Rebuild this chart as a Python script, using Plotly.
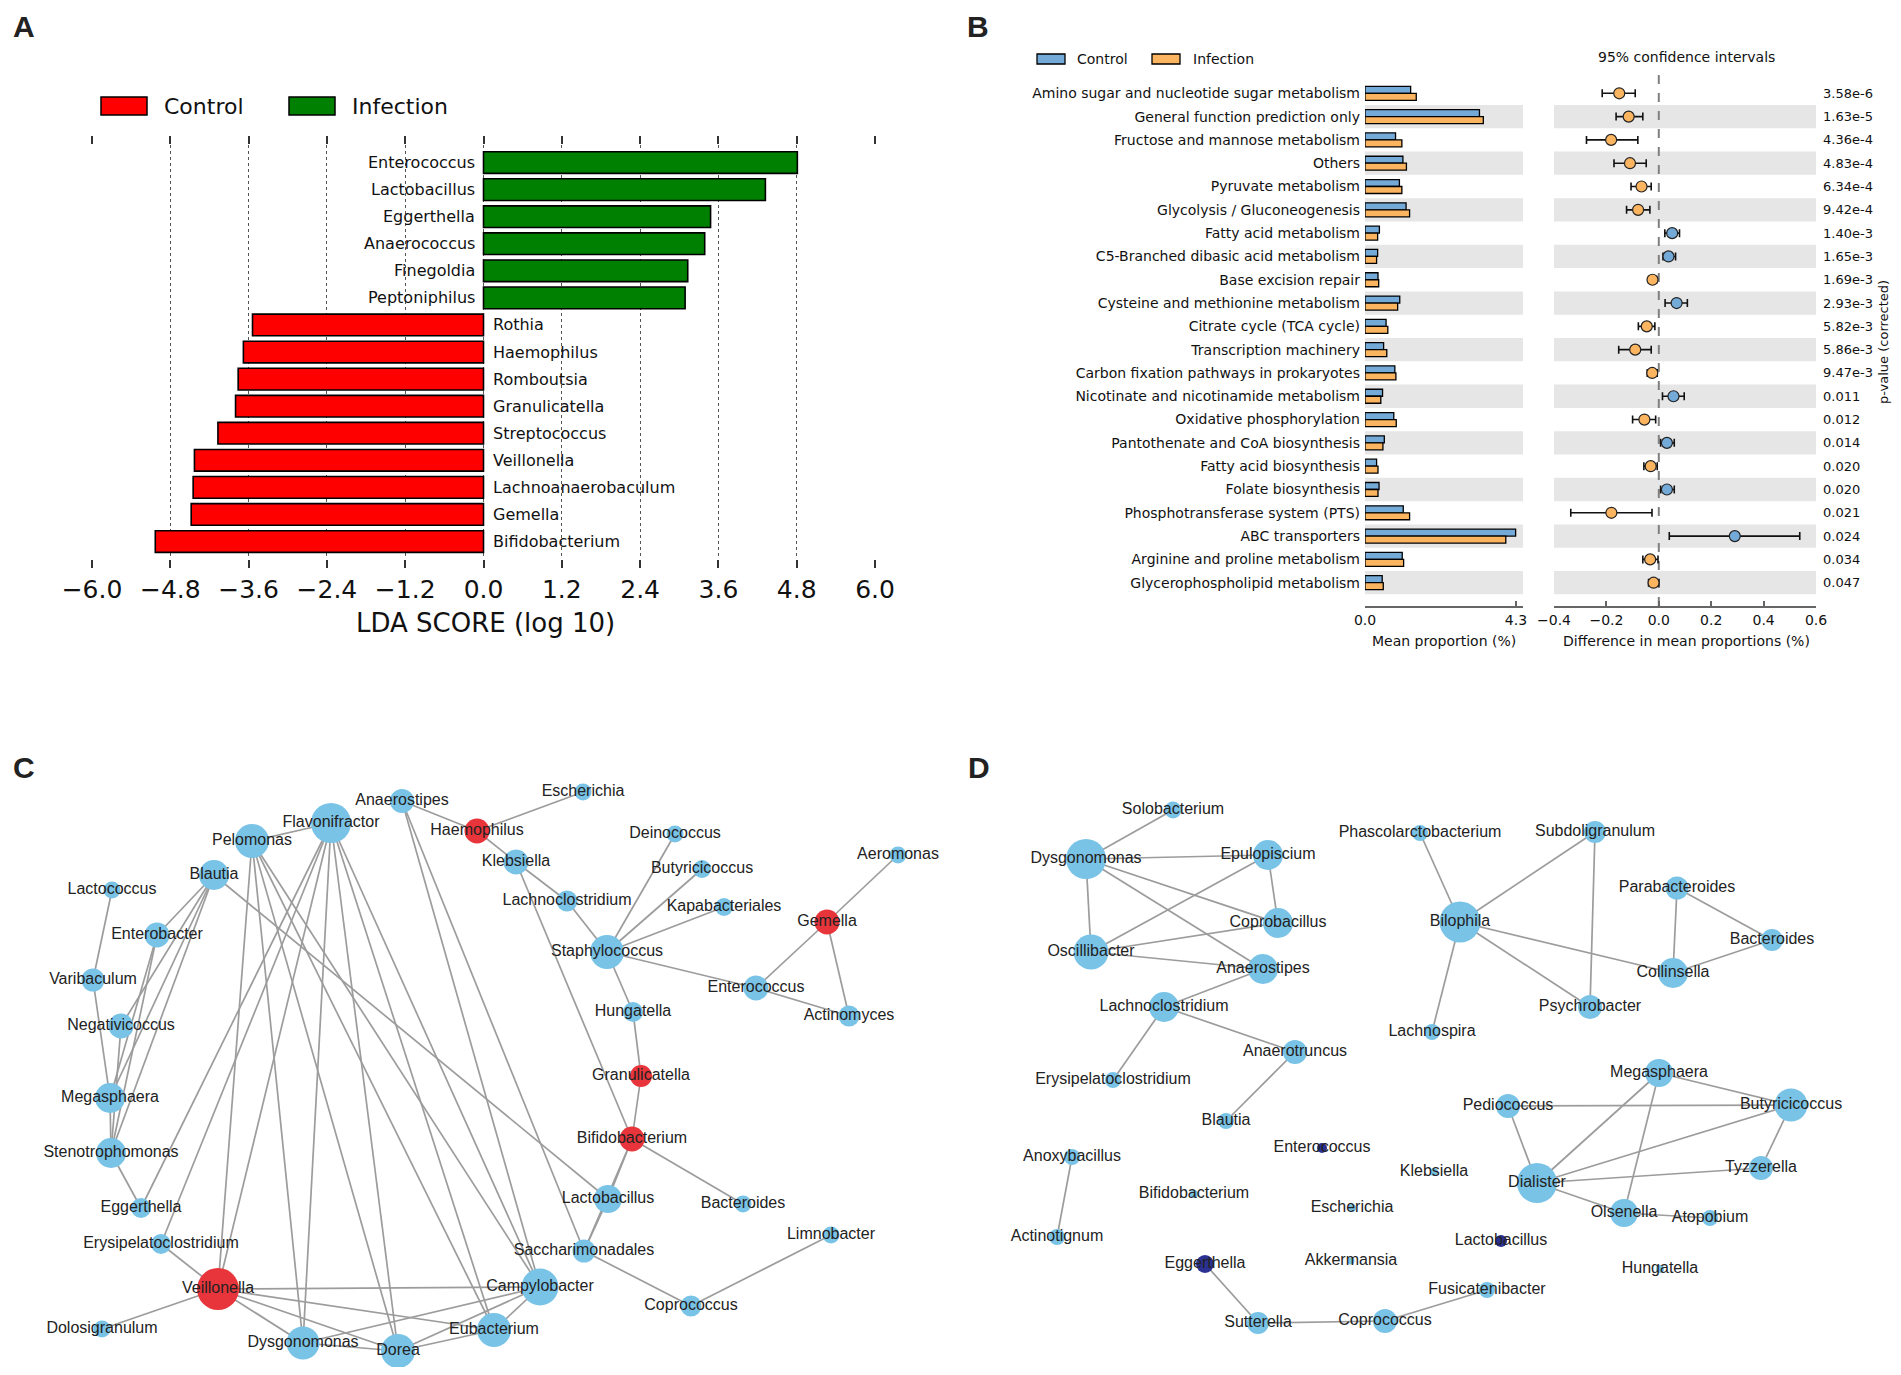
import plotly.graph_objects as go

REF_W, REF_H = 1901, 1375
OFF = 8  # default page margin of the HTML body, compensated below
W, H = REF_W - 2 * OFF, REF_H - 2 * OFF  # figure fits the window without scrollbars

# ---------------- Panel A data (LEfSe) ----------------
lda_taxa = ["Enterococcus", "Lactobacillus", "Eggerthella", "Anaerococcus", "Finegoldia",
            "Peptoniphilus", "Rothia", "Haemophilus", "Romboutsia", "Granulicatella",
            "Streptococcus", "Veillonella", "Lachnoanaerobaculum", "Gemella", "Bifidobacterium"]
lda_scores = [4.81, 4.32, 3.48, 3.39, 3.13, 3.09, -3.54, -3.68, -3.76, -3.80,
              -4.07, -4.43, -4.45, -4.48, -5.03]
lda_ticks = [-6.0, -4.8, -3.6, -2.4, -1.2, 0.0, 1.2, 2.4, 3.6, 4.8, 6.0]
lda_tick_labels = ["\u22126.0", "\u22124.8", "\u22123.6", "\u22122.4", "\u22121.2", "0.0",
                   "1.2", "2.4", "3.6", "4.8", "6.0"]

# ---------------- Panel B data (STAMP) ----------------
pathways = ["Amino sugar and nucleotide sugar metabolism", "General function prediction only",
            "Fructose and mannose metabolism", "Others", "Pyruvate metabolism",
            "Glycolysis / Gluconeogenesis", "Fatty acid metabolism",
            "C5-Branched dibasic acid metabolism", "Base excision repair",
            "Cysteine and methionine metabolism", "Citrate cycle (TCA cycle)",
            "Transcription machinery", "Carbon fixation pathways in prokaryotes",
            "Nicotinate and nicotinamide metabolism", "Oxidative phosphorylation",
            "Pantothenate and CoA biosynthesis", "Fatty acid biosynthesis",
            "Folate biosynthesis", "Phosphotransferase system (PTS)", "ABC transporters",
            "Arginine and proline metabolism", "Glycerophospholipid metabolism"]
control_mean = [1.30, 3.26, 0.87, 1.08, 0.98, 1.17, 0.41, 0.36, 0.37, 0.99, 0.60,
                0.53, 0.85, 0.50, 0.82, 0.55, 0.33, 0.40, 1.09, 4.29, 1.06, 0.49]
infection_mean = [1.46, 3.37, 1.05, 1.18, 1.05, 1.27, 0.36, 0.33, 0.39, 0.93, 0.65,
                  0.62, 0.88, 0.45, 0.89, 0.51, 0.37, 0.37, 1.27, 4.01, 1.10, 0.52]
diff_mean = [-0.151, -0.115, -0.182, -0.110, -0.066, -0.079, 0.051, 0.037, -0.024, 0.068,
             -0.046, -0.090, -0.025, 0.056, -0.055, 0.031, -0.031, 0.031, -0.181, 0.290,
             -0.033, -0.020]
ci_low = [-0.216, -0.163, -0.276, -0.171, -0.106, -0.123, 0.023, 0.016, -0.039, 0.024,
          -0.078, -0.153, -0.044, 0.014, -0.100, 0.007, -0.057, 0.007, -0.336, 0.040,
          -0.061, -0.039]
ci_high = [-0.090, -0.061, -0.080, -0.048, -0.029, -0.034, 0.079, 0.064, -0.008, 0.109,
           -0.015, -0.029, -0.006, 0.097, -0.012, 0.059, -0.006, 0.059, -0.026, 0.538,
           -0.003, 0.000]
p_values = ["3.58e-6", "1.63e-5", "4.36e-4", "4.83e-4", "6.34e-4", "9.42e-4", "1.40e-3",
            "1.65e-3", "1.69e-3", "2.93e-3", "5.82e-3", "5.86e-3", "9.47e-3", "0.011",
            "0.012", "0.014", "0.020", "0.020", "0.021", "0.024", "0.034", "0.047"]
diff_ticks = [-0.4, -0.2, 0.0, 0.2, 0.4, 0.6]
diff_tick_labels = ["\u22120.4", "\u22120.2", "0.0", "0.2", "0.4", "0.6"]

# ---------------- Panel C network ----------------
c_names = ["Flavonifractor", "Pelomonas", "Anaerostipes", "Haemophilus", "Escherichia",
           "Blautia", "Lactococcus", "Enterobacter", "Varibaculum", "Negativicoccus",
           "Megasphaera", "Stenotrophomonas", "Eggerthella", "Erysipelatoclostridium",
           "Veillonella", "Dolosigranulum", "Dysgonomonas", "Dorea", "Eubacterium",
           "Campylobacter", "Saccharimonadales", "Coprococcus", "Limnobacter",
           "Lactobacillus", "Bacteroides", "Bifidobacterium", "Granulicatella", "Hungatella",
           "Staphylococcus", "Enterococcus", "Actinomyces", "Gemella", "Aeromonas",
           "Klebsiella", "Lachnoclostridium", "Deinococcus", "Butyricicoccus",
           "Kapabacteriales"]
c_x = [331, 252, 402, 477, 583, 214, 112, 157, 93, 121, 110, 111, 141, 161, 218, 102,
       303, 398, 494, 540, 584, 691, 831, 608, 743, 632, 641, 633, 607, 756, 849, 827,
       898, 516, 567, 675, 702, 724]
c_y = [823, 841, 801, 831, 792, 875, 890, 935, 980, 1026, 1098, 1153, 1208, 1244, 1289,
       1329, 1343, 1351, 1330, 1287, 1251, 1306, 1235, 1199, 1204, 1139, 1076, 1012, 952,
       988, 1016, 922, 855, 862, 901, 834, 869, 907]
c_size = [40, 34, 24, 25, 17, 30, 17, 25, 23, 25, 30, 30, 20, 20, 42, 17, 33, 34, 34, 37,
          23, 21, 17, 28, 17, 25, 22, 20, 34, 25, 21, 25, 17, 25, 21, 17, 18, 18]
c_group = ["n", "n", "n", "e", "n", "n", "n", "n", "n", "n", "n", "n", "n", "n", "e", "n",
           "n", "n", "n", "n", "n", "n", "n", "n", "n", "e", "e", "n", "n", "n", "n", "e",
           "n", "n", "n", "n", "n", "n"]
c_edges = [("Flavonifractor", "Pelomonas"), ("Flavonifractor", "Eggerthella"),
           ("Flavonifractor", "Erysipelatoclostridium"), ("Flavonifractor", "Veillonella"),
           ("Flavonifractor", "Dysgonomonas"), ("Flavonifractor", "Dorea"),
           ("Flavonifractor", "Eubacterium"), ("Flavonifractor", "Campylobacter"),
           ("Pelomonas", "Veillonella"), ("Pelomonas", "Dysgonomonas"), ("Pelomonas", "Dorea"),
           ("Pelomonas", "Eubacterium"), ("Pelomonas", "Campylobacter"),
           ("Blautia", "Enterobacter"), ("Blautia", "Negativicoccus"), ("Blautia", "Megasphaera"),
           ("Blautia", "Stenotrophomonas"), ("Blautia", "Lactobacillus"),
           ("Enterobacter", "Megasphaera"), ("Enterobacter", "Stenotrophomonas"),
           ("Lactococcus", "Varibaculum"), ("Varibaculum", "Megasphaera"),
           ("Negativicoccus", "Stenotrophomonas"), ("Megasphaera", "Stenotrophomonas"),
           ("Stenotrophomonas", "Eggerthella"), ("Erysipelatoclostridium", "Veillonella"),
           ("Veillonella", "Dolosigranulum"), ("Veillonella", "Dysgonomonas"),
           ("Veillonella", "Dorea"), ("Veillonella", "Eubacterium"),
           ("Veillonella", "Campylobacter"), ("Dysgonomonas", "Campylobacter"),
           ("Dysgonomonas", "Dorea"), ("Dorea", "Eubacterium"), ("Dorea", "Campylobacter"),
           ("Eubacterium", "Campylobacter"), ("Anaerostipes", "Haemophilus"),
           ("Anaerostipes", "Campylobacter"), ("Anaerostipes", "Saccharimonadales"),
           ("Haemophilus", "Escherichia"), ("Haemophilus", "Klebsiella"),
           ("Klebsiella", "Lachnoclostridium"), ("Lachnoclostridium", "Staphylococcus"),
           ("Klebsiella", "Bifidobacterium"), ("Staphylococcus", "Deinococcus"),
           ("Staphylococcus", "Butyricicoccus"), ("Staphylococcus", "Kapabacteriales"),
           ("Staphylococcus", "Enterococcus"), ("Staphylococcus", "Hungatella"),
           ("Enterococcus", "Gemella"), ("Enterococcus", "Actinomyces"),
           ("Gemella", "Aeromonas"), ("Gemella", "Actinomyces"),
           ("Hungatella", "Granulicatella"), ("Granulicatella", "Bifidobacterium"),
           ("Bifidobacterium", "Lactobacillus"), ("Bifidobacterium", "Saccharimonadales"),
           ("Bifidobacterium", "Bacteroides"), ("Lactobacillus", "Saccharimonadales"),
           ("Saccharimonadales", "Coprococcus"), ("Coprococcus", "Limnobacter")]

# ---------------- Panel D network ----------------
d_names = ["Solobacterium", "Dysgonomonas", "Epulopiscium", "Coprobacillus", "Oscillibacter",
           "Anaerostipes", "Lachnoclostridium", "Anaerotruncus", "Phascolarctobacterium",
           "Subdoligranulum", "Bilophila", "Parabacteroides", "Bacteroides", "Collinsella",
           "Psychrobacter", "Lachnospira", "Erysipelatoclostridium", "Blautia", "Enterococcus",
           "Anoxybacillus", "Klebsiella", "Bifidobacterium", "Escherichia", "Actinotignum",
           "Lactobacillus", "Eggerthella", "Akkermansia", "Hungatella", "Fusicatenibacter",
           "Sutterella", "Coprococcus", "Megasphaera", "Butyricicoccus", "Pediococcus",
           "Tyzzerella", "Dialister", "Olsenella", "Atopobium"]
d_x = [1173, 1086, 1268, 1278, 1091, 1263, 1164, 1295, 1420, 1595, 1460, 1677, 1772, 1673,
       1590, 1432, 1113, 1226, 1322, 1072, 1434, 1194, 1352, 1057, 1501, 1205, 1351, 1660,
       1487, 1258, 1385, 1659, 1791, 1508, 1761, 1537, 1624, 1710]
d_y = [810, 859, 855, 923, 952, 969, 1007, 1052, 833, 832, 922, 888, 940, 973, 1007, 1032,
       1080, 1121, 1148, 1157, 1172, 1194, 1208, 1237, 1241, 1264, 1261, 1269, 1290, 1323,
       1321, 1073, 1105, 1106, 1168, 1183, 1213, 1218]
d_size = [17, 40, 30, 30, 35, 30, 30, 24, 16, 22, 41, 23, 22, 30, 24, 16, 16, 16, 10, 16,
          8, 8, 8, 16, 12, 18, 7, 8, 16, 22, 24, 28, 33, 24, 24, 40, 28, 16]
d_group = ["n"] * 18 + ["e"] + ["n"] * 5 + ["e", "e"] + ["n"] * 12
d_edges = [("Dysgonomonas", "Solobacterium"), ("Dysgonomonas", "Epulopiscium"),
           ("Dysgonomonas", "Coprobacillus"), ("Dysgonomonas", "Anaerostipes"),
           ("Dysgonomonas", "Oscillibacter"), ("Epulopiscium", "Coprobacillus"),
           ("Epulopiscium", "Oscillibacter"), ("Oscillibacter", "Coprobacillus"),
           ("Oscillibacter", "Anaerostipes"), ("Anaerostipes", "Lachnoclostridium"),
           ("Lachnoclostridium", "Anaerotruncus"), ("Lachnoclostridium", "Erysipelatoclostridium"),
           ("Anaerotruncus", "Blautia"), ("Phascolarctobacterium", "Bilophila"),
           ("Bilophila", "Subdoligranulum"), ("Bilophila", "Collinsella"),
           ("Bilophila", "Psychrobacter"), ("Bilophila", "Lachnospira"),
           ("Subdoligranulum", "Psychrobacter"), ("Parabacteroides", "Collinsella"),
           ("Parabacteroides", "Bacteroides"), ("Collinsella", "Bacteroides"),
           ("Anoxybacillus", "Actinotignum"), ("Eggerthella", "Sutterella"),
           ("Sutterella", "Coprococcus"), ("Coprococcus", "Fusicatenibacter"),
           ("Pediococcus", "Butyricicoccus"), ("Pediococcus", "Dialister"),
           ("Megasphaera", "Butyricicoccus"), ("Megasphaera", "Dialister"),
           ("Megasphaera", "Olsenella"), ("Butyricicoccus", "Dialister"),
           ("Butyricicoccus", "Tyzzerella"), ("Dialister", "Tyzzerella"),
           ("Dialister", "Olsenella"), ("Olsenella", "Atopobium")]

# ---------------- styling ----------------
RED, GREEN = "#ff0000", "#008000"
BLUE_B, ORANGE_B = "#74aad8", "#fbb45f"
NODE_BLUE, NODE_RED, NODE_NAVY = "#79c3e7", "#e8353b", "#2b3192"
DV = "DejaVu Sans"
AR = "Liberation Sans, Arial, sans-serif"
FB = 14  # panel B font size
FP = 13  # p-value column font size


def px(x):
    return (x - OFF) / W


def py(y):
    return 1 - (y - OFF) / H


fig = go.Figure()
shapes, annos = [], []

# ---------- Panel A ----------
nA = len(lda_taxa)
rowsA = list(range(nA))
fig.add_trace(go.Bar(
    x=lda_scores, y=rowsA, orientation="h", width=0.8,
    marker=dict(color=[GREEN if v > 0 else RED for v in lda_scores],
                line=dict(color="black", width=1.6)),
    xaxis="x", yaxis="y", showlegend=False, hoverinfo="skip"))
for name, v, r in zip(lda_taxa, lda_scores, rowsA):
    annos.append(dict(x=0, y=r, xref="x", yref="y", text=name, showarrow=False,
                      xanchor="right" if v > 0 else "left", xshift=-7 if v > 0 else 7,
                      font=dict(family=DV, size=16, color="#111")))

# legend A
for x0, x1, col, lab, tx in [(101, 147, RED, "Control", 162), (289, 335, GREEN, "Infection", 350)]:
    shapes.append(dict(type="rect", xref="paper", yref="paper", x0=px(x0), x1=px(x1),
                       y0=py(115), y1=py(97), fillcolor=col, line=dict(color="black", width=1.5)))
    annos.append(dict(x=px(tx), y=py(106), xref="paper", yref="paper", text=lab, showarrow=False,
                      xanchor="left", yanchor="middle", font=dict(family=DV, size=22, color="#111")))
annos.append(dict(x=px(485), y=py(623), xref="paper", yref="paper", text="LDA SCORE (log 10)",
                  showarrow=False, xanchor="center", yanchor="middle",
                  font=dict(family=DV, size=26, color="#111")))

# ---------- Panel B ----------
nB = len(pathways)
rowsB = list(range(nB))
for r in rowsB:
    if r % 2 == 1:
        for xr, yr in [("x2 domain", "y2"), ("x3 domain", "y3")]:
            shapes.append(dict(type="rect", xref=xr, yref=yr, x0=0, x1=1, y0=r - 0.5, y1=r + 0.5,
                               fillcolor="#e6e6e6", line=dict(width=0), layer="below"))
shapes.append(dict(type="line", xref="x3", yref="y3 domain", x0=0, x1=0, y0=0, y1=1,
                   line=dict(color="#808080", width=2, dash="dash"), layer="below"))

fig.add_trace(go.Bar(
    x=control_mean, y=[r - 0.15 for r in rowsB], orientation="h", width=0.3,
    marker=dict(color=BLUE_B, line=dict(color="black", width=1.3)),
    xaxis="x2", yaxis="y2", showlegend=False, hoverinfo="skip"))
fig.add_trace(go.Bar(
    x=infection_mean, y=[r + 0.15 for r in rowsB], orientation="h", width=0.3,
    marker=dict(color=ORANGE_B, line=dict(color="black", width=1.3)),
    xaxis="x2", yaxis="y2", showlegend=False, hoverinfo="skip"))

fig.add_trace(go.Scatter(
    x=diff_mean, y=rowsB, mode="markers",
    marker=dict(size=11, color=[BLUE_B if d > 0 else ORANGE_B for d in diff_mean],
                line=dict(color="#222", width=1.2)),
    error_x=dict(type="data", symmetric=False,
                 array=[h - d for h, d in zip(ci_high, diff_mean)],
                 arrayminus=[d - l for d, l in zip(diff_mean, ci_low)],
                 color="#111", thickness=1.6, width=4),
    xaxis="x3", yaxis="y3", showlegend=False, hoverinfo="skip"))

for r, p in zip(rowsB, p_values):
    annos.append(dict(x=px(1821), y=r, xref="paper", yref="y3", text=p, showarrow=False,
                      xanchor="left", yanchor="middle", font=dict(family=DV, size=FP, color="#111")))
annos.append(dict(x=px(1884), y=py(342), xref="paper", yref="paper", text="p-value (corrected)",
                  showarrow=False, textangle=-90, xanchor="center", yanchor="middle",
                  borderpad=0, font=dict(family=DV, size=FP, color="#111")))
annos.append(dict(x=px(1686), y=py(57), xref="paper", yref="paper", text="95% confidence intervals",
                  showarrow=False, xanchor="center", yanchor="middle",
                  font=dict(family=DV, size=FB, color="#111")))
annos.append(dict(x=px(1444), y=py(641), xref="paper", yref="paper", text="Mean proportion (%)",
                  showarrow=False, xanchor="center", yanchor="middle",
                  font=dict(family=DV, size=FB, color="#111")))
annos.append(dict(x=px(1686), y=py(641), xref="paper", yref="paper",
                  text="Difference in mean proportions (%)", showarrow=False,
                  xanchor="center", yanchor="middle", font=dict(family=DV, size=FB, color="#111")))
for x0, x1, col, lab, tx in [(1037, 1065, BLUE_B, "Control", 1075), (1152, 1180, ORANGE_B, "Infection", 1191)]:
    shapes.append(dict(type="rect", xref="paper", yref="paper", x0=px(x0), x1=px(x1),
                       y0=py(64), y1=py(54), fillcolor=col, line=dict(color="black", width=1.3)))
    annos.append(dict(x=px(tx), y=py(59), xref="paper", yref="paper", text=lab, showarrow=False,
                      xanchor="left", yanchor="middle", font=dict(family=DV, size=FB, color="#111")))


# ---------- Networks ----------
def add_network(names, xs, ys, sizes, groups, edges, xa, ya, hi_color):
    pos = {n: (x, y) for n, x, y in zip(names, xs, ys)}
    ex, ey = [], []
    for a, b in edges:
        ex += [pos[a][0], pos[b][0], None]
        ey += [pos[a][1], pos[b][1], None]
    fig.add_trace(go.Scatter(x=ex, y=ey, mode="lines", line=dict(color="#9c9c9c", width=1.7),
                             xaxis=xa, yaxis=ya, showlegend=False, hoverinfo="skip"))
    fig.add_trace(go.Scatter(
        x=xs, y=ys, mode="markers+text", text=names, textposition="middle center",
        textfont=dict(family=AR, size=16, color="#222"),
        marker=dict(size=sizes, color=[hi_color if g == "e" else NODE_BLUE for g in groups],
                    line=dict(width=0), opacity=1),
        xaxis=xa, yaxis=ya, showlegend=False, hoverinfo="skip", cliponaxis=False))


add_network(c_names, c_x, c_y, c_size, c_group, c_edges, "x4", "y4", NODE_RED)
add_network(d_names, d_x, d_y, d_size, d_group, d_edges, "x5", "y5", NODE_NAVY)

# panel letters (top-anchored so that their boxes stay inside the figure)
for lab, x, y in [("A", 12, OFF + 1), ("B", 966, OFF + 1), ("C", 12, 750), ("D", 967, 750)]:
    annos.append(dict(x=px(x), y=py(y), xref="paper", yref="paper", text="<b>%s</b>" % lab,
                      showarrow=False, xanchor="left", yanchor="top", borderpad=0,
                      font=dict(family=AR, size=30, color="#222")))

# network panels: axis ranges in reference pixel units
NET_TOP, SPLIT = 700, 950
hidden = dict(visible=False, showgrid=False, zeroline=False, automargin=False)
fig.update_layout(
    width=W, height=H, margin=dict(l=0, r=0, t=0, b=0, autoexpand=False),
    paper_bgcolor="white", plot_bgcolor="rgba(0,0,0,0)",
    barmode="overlay", shapes=shapes, annotations=annos,
    xaxis=dict(domain=[px(92), px(875)], range=[-6, 6], tickvals=lda_ticks,
               ticktext=lda_tick_labels, ticks="outside", ticklen=8, tickwidth=1.5,
               tickcolor="#333", mirror="ticks", showline=False, showgrid=True,
               gridcolor="#555", griddash="dot", gridwidth=1, zeroline=False, anchor="y",
               automargin=False, tickfont=dict(family=DV, size=25, color="#111")),
    yaxis=dict(domain=[py(559.4), py(145.2)], range=[nA - 1 + 0.66, -0.64], anchor="x",
               **hidden),
    xaxis2=dict(domain=[px(1365), px(1523)], range=[0, 4.5], tickvals=[0, 4.3],
                ticktext=["0.0", "4.3"], ticks="inside", ticklen=5, tickwidth=1.5,
                tickcolor="#666", showline=True, linecolor="#666", linewidth=1.5,
                showgrid=False, zeroline=False, anchor="y2", automargin=False,
                tickfont=dict(family=DV, size=FB, color="#111")),
    yaxis2=dict(domain=[py(606), py(70)], range=[nB, -1.0], tickvals=rowsB, ticktext=pathways,
                ticks="", showline=False, showgrid=False, zeroline=False, anchor="x2",
                automargin=False, ticklabelstandoff=4,
                tickfont=dict(family=DV, size=FB, color="#111")),
    xaxis3=dict(domain=[px(1554), px(1816)], range=[-0.4, 0.6], tickvals=diff_ticks,
                ticktext=diff_tick_labels, ticks="inside", ticklen=5, tickwidth=1.5,
                tickcolor="#666", showline=True, linecolor="#666", linewidth=1.5,
                showgrid=False, zeroline=False, anchor="y3", automargin=False,
                tickfont=dict(family=DV, size=FB, color="#111")),
    yaxis3=dict(domain=[py(606), py(70)], range=[nB, -1.0], showticklabels=False, ticks="",
                showline=False, showgrid=False, zeroline=False, anchor="x3", automargin=False),
    xaxis4=dict(domain=[0, px(SPLIT)], range=[OFF, SPLIT], anchor="y4", **hidden),
    yaxis4=dict(domain=[0, py(NET_TOP)], range=[H + OFF, NET_TOP], anchor="x4", **hidden),
    xaxis5=dict(domain=[px(SPLIT), 1], range=[SPLIT, W + OFF], anchor="y5", **hidden),
    yaxis5=dict(domain=[0, py(NET_TOP)], range=[H + OFF, NET_TOP], anchor="x5", **hidden),
)

fig.write_html("out.html")
